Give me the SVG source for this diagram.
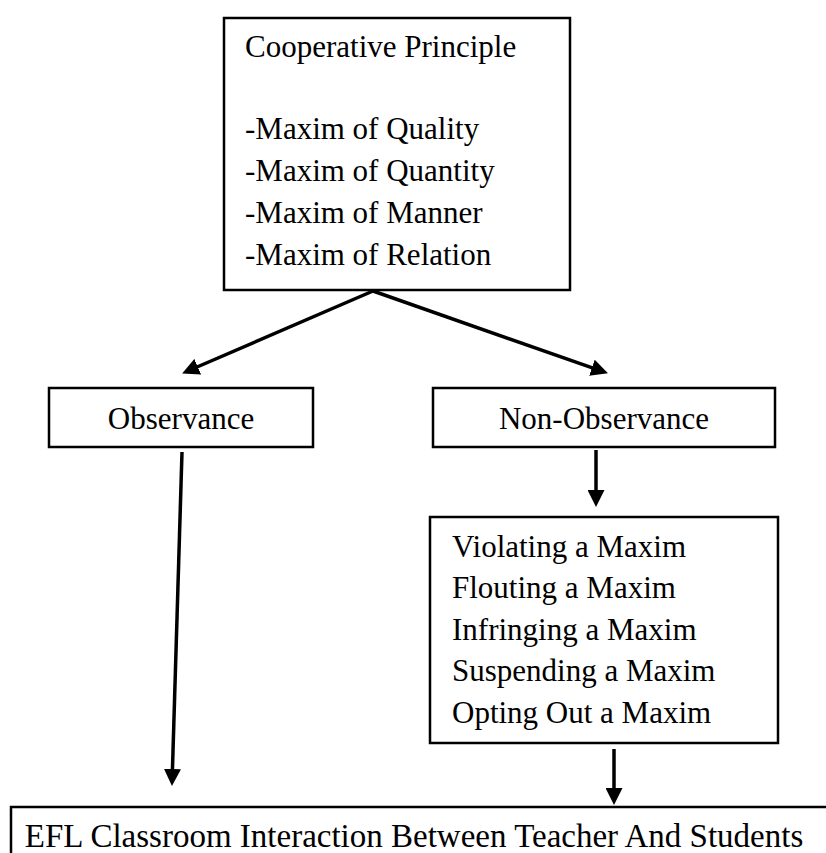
<svg xmlns="http://www.w3.org/2000/svg" width="826" height="853" viewBox="0 0 826 853">
<defs>
<style>
.box{fill:#fff;stroke:#000;stroke-width:2.5}
.t{font-family:"Liberation Serif","Times New Roman",serif;font-size:31px;fill:#000}
.c{text-anchor:middle}
.big{font-size:33px}
.conn{stroke:#000;stroke-width:3.5;fill:none}
</style>
<marker id="ah" markerUnits="userSpaceOnUse" markerWidth="17" markerHeight="17" refX="2" refY="8.5" orient="auto">
<path d="M0,0 L17,8.5 L0,17 z" fill="#000"/>
</marker>
</defs>
<rect width="826" height="853" fill="#fff"/>
<g id="connectors">
<line class="conn" x1="373" y1="291" x2="195.9" y2="367.5" marker-end="url(#ah)"/>
<line class="conn" x1="373" y1="291" x2="593.8" y2="368.4" marker-end="url(#ah)"/>
<line class="conn" x1="596" y1="450" x2="596" y2="492" marker-end="url(#ah)"/>
<line class="conn" x1="182" y1="452" x2="172.4" y2="771" marker-end="url(#ah)"/>
<line class="conn" x1="614" y1="749" x2="614" y2="790" marker-end="url(#ah)"/>
</g>
<g id="cooperative">
<rect class="box" x="224" y="18" width="346" height="272"/>
<text class="t" x="245" y="57">Cooperative Principle</text>
<text class="t" x="245" y="139">-Maxim of Quality</text>
<text class="t" x="245" y="181">-Maxim of Quantity</text>
<text class="t" x="245" y="223">-Maxim of Manner</text>
<text class="t" x="245" y="265">-Maxim of Relation</text>
</g>
<g id="observance">
<rect class="box" x="49" y="388" width="264" height="59"/>
<text class="t c" x="181" y="429">Observance</text>
</g>
<g id="non-observance">
<rect class="box" x="433" y="388" width="342" height="59"/>
<text class="t c" x="604" y="429">Non-Observance</text>
</g>
<g id="types">
<rect class="box" x="430" y="517" width="348" height="226"/>
<text class="t" x="452" y="557">Violating a Maxim</text>
<text class="t" x="452" y="598">Flouting a Maxim</text>
<text class="t" x="452" y="640">Infringing a Maxim</text>
<text class="t" x="452" y="681">Suspending a Maxim</text>
<text class="t" x="452" y="723">Opting Out a Maxim</text>
</g>
<g id="efl">
<rect class="box" x="11" y="807" width="830" height="60"/>
<text class="t c big" x="414" y="847">EFL Classroom Interaction Between Teacher And Students</text>
</g>
</svg>
